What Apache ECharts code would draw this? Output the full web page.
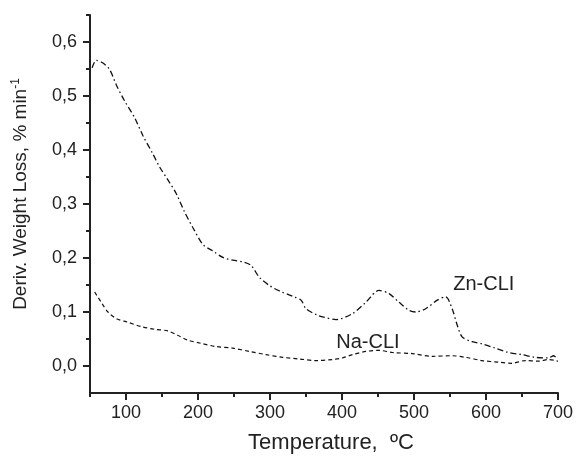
<!DOCTYPE html>
<html>
<head>
<meta charset="utf-8">
<script src="https://cdn.jsdelivr.net/npm/echarts@6/dist/echarts.min.js"></script>
<style>
html,body{margin:0;padding:0;background:#fff;}
#chart{width:576px;height:459px;}
</style>
</head>
<body>
<div id="chart"></div>
<script>
// ---- data ----
var seriesNames = ['Zn-CLI', 'Na-CLI'];
var znTemp = [53, 58.7, 68, 77.3, 86.4, 98, 111.9, 123.4, 137.2, 146.5, 158, 169.5, 181.1, 193, 206.9, 220.7, 234.6, 248.4, 264.6, 273.9, 285.4, 299.2, 313.1, 331.5, 343.1, 350, 366.1, 373, 391.6, 414.6, 433.1, 451.5, 465.4, 479.2, 493.1, 502.4, 516.2, 532.3, 543.9, 553, 560, 566.9, 580.7, 594.6, 613.1, 631.6, 650, 668.5, 687, 694, 698];
var znVal  = [0.552, 0.566, 0.561, 0.549, 0.521, 0.491, 0.460, 0.427, 0.393, 0.369, 0.345, 0.320, 0.286, 0.256, 0.225, 0.213, 0.201, 0.196, 0.192, 0.186, 0.164, 0.149, 0.139, 0.129, 0.122, 0.106, 0.094, 0.091, 0.086, 0.097, 0.118, 0.140, 0.134, 0.118, 0.103, 0.100, 0.106, 0.122, 0.128, 0.106, 0.076, 0.054, 0.045, 0.041, 0.033, 0.025, 0.021, 0.016, 0.015, 0.019, 0.014];
var naTemp = [56.5, 65.6, 74.9, 86.4, 102.6, 121, 139.6, 158, 171.8, 185.7, 204.1, 225, 248.4, 271.5, 294.7, 317.7, 340.8, 363.8, 386.9, 400.7, 414.6, 433.1, 451.5, 470, 497.7, 525.4, 553, 571.5, 594.6, 617.7, 636.1, 654.6, 673, 687, 700];
var naVal  = [0.137, 0.118, 0.100, 0.088, 0.081, 0.073, 0.068, 0.065, 0.057, 0.048, 0.042, 0.036, 0.033, 0.027, 0.021, 0.016, 0.013, 0.010, 0.012, 0.015, 0.021, 0.027, 0.029, 0.025, 0.023, 0.018, 0.019, 0.016, 0.010, 0.007, 0.005, 0.010, 0.009, 0.012, 0.009];
var xMajorTicks = [100, 200, 300, 400, 500, 600, 700];
var xMinorTicks = [50, 150, 250, 350, 450, 550, 650];
var yMajorTicks = [0, 0.1, 0.2, 0.3, 0.4, 0.5, 0.6];
var yMinorTicks = [0.05, 0.15, 0.25, 0.35, 0.45, 0.55, 0.65];
// label anchors (data coordinates)
var labelAnchors = [[597, 0.151], [436, 0.044]];

function pairs(xs, ys) { return xs.map(function (x, i) { return [x, ys[i]]; }); }

var ink = '#222';
var chart = echarts.init(document.getElementById('chart'));
var font = 'Liberation Sans, Arial, sans-serif';

function labelMark(i) {
  return {
    symbol: 'circle', symbolSize: 0, silent: true,
    data: [{ coord: labelAnchors[i], value: seriesNames[i] }],
    label: { show: true, position: 'inside', formatter: seriesNames[i], fontSize: 20, color: ink, fontFamily: font }
  };
}

chart.setOption({
  animation: false,
  backgroundColor: '#fff',
  grid: { left: 90, right: 16, top: 15, bottom: 62 },
  xAxis: [{
    type: 'value', min: 50, max: 700, position: 'bottom',
    axisLine: { onZero: false, lineStyle: { color: ink, width: 2 } },
    axisTick: { customValues: xMajorTicks, length: 7, lineStyle: { color: ink, width: 2 } },
    axisLabel: { customValues: xMajorTicks, fontSize: 18, margin: 11, color: ink, fontFamily: font },
    splitLine: { show: false },
    name: 'Temperature,  \u00baC', nameLocation: 'middle', nameGap: 39,
    nameTextStyle: { fontSize: 22, color: ink, fontFamily: font, padding: [0, 0, 0, 14] }
  }, {
    type: 'value', min: 50, max: 700, position: 'bottom',
    axisLine: { show: false, onZero: false },
    axisTick: { customValues: xMinorTicks, length: 4, lineStyle: { color: ink, width: 2 } },
    axisLabel: { show: false },
    splitLine: { show: false }
  }],
  yAxis: [{
    type: 'value', min: -0.05, max: 0.65, position: 'left',
    axisLine: { show: true, onZero: false, lineStyle: { color: ink, width: 2 } },
    axisTick: { show: true, customValues: yMajorTicks, length: 7, lineStyle: { color: ink, width: 2 } },
    axisLabel: { customValues: yMajorTicks, fontSize: 18, margin: 13, color: ink, fontFamily: font,
      formatter: function (v) { return v.toFixed(1).replace('.', ','); } },
    splitLine: { show: false },
    name: '{a|Deriv. Weight Loss, % min}{s|-1}', nameLocation: 'middle', nameGap: 58,
    nameTextStyle: { color: ink, fontFamily: font, padding: [0, 0, 0, 20],
      rich: { a: { fontSize: 19, color: ink, fontFamily: font }, s: { fontSize: 12, color: ink, fontFamily: font, padding: [0, 0, 10, 0] } } }
  }, {
    type: 'value', min: -0.05, max: 0.65, position: 'left',
    axisLine: { show: false, onZero: false },
    axisTick: { show: true, customValues: yMinorTicks, length: 4, lineStyle: { color: ink, width: 2 } },
    axisLabel: { show: false },
    splitLine: { show: false }
  }],
  series: [{
    name: seriesNames[0], type: 'line', xAxisIndex: 0, yAxisIndex: 0,
    data: pairs(znTemp, znVal), showSymbol: false, smooth: 0.3,
    lineStyle: { color: '#111', width: 1.3, type: [6, 3, 1.5, 3] },
    markPoint: labelMark(0)
  }, {
    name: seriesNames[1], type: 'line', xAxisIndex: 0, yAxisIndex: 0,
    data: pairs(naTemp, naVal), showSymbol: false, smooth: 0.3,
    lineStyle: { color: '#111', width: 1.2, type: [4, 3] },
    markPoint: labelMark(1)
  }]
});
</script>
</body>
</html>
